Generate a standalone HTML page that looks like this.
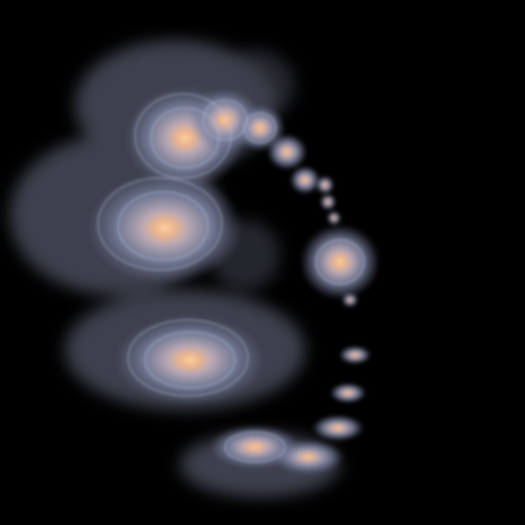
<!DOCTYPE html>
<html><head><meta charset="utf-8">
<style>
html,body{margin:0;padding:0;background:#000;width:525px;height:525px;overflow:hidden}
svg{display:block}
</style></head>
<body>
<svg width="525" height="525" viewBox="0 0 525 525">
<defs>
<radialGradient id="gal">
<stop offset="0" stop-color="#fbd7a8"/>
<stop offset="0.12" stop-color="#f0b58a"/>
<stop offset="0.3" stop-color="#b9a8b4"/>
<stop offset="0.6" stop-color="#7d85a3" stop-opacity="0.85"/>
<stop offset="1" stop-color="#6a7090" stop-opacity="0"/>
</radialGradient>
<filter id="b8"><feGaussianBlur stdDeviation="8"/></filter>
<filter id="b3"><feGaussianBlur stdDeviation="2"/></filter>
<filter id="b1"><feGaussianBlur stdDeviation="1.2"/></filter>
</defs>
<rect width="525" height="525" fill="#000"/>
<g filter="url(#b8)" fill="#7a809a" opacity="0.5">
<ellipse cx="175" cy="105" rx="100" ry="65"/>
<ellipse cx="115" cy="215" rx="105" ry="80"/>
<ellipse cx="185" cy="350" rx="120" ry="60"/>
<ellipse cx="260" cy="465" rx="80" ry="32"/>
<ellipse cx="245" cy="255" rx="35" ry="35" opacity="0.6"/>
<ellipse cx="255" cy="85" rx="40" ry="35" opacity="0.6"/>
</g>
<g filter="url(#b3)">
<ellipse cx="165" cy="228" rx="78" ry="56" fill="url(#gal)"/>
<ellipse cx="185" cy="138" rx="60" ry="52" fill="url(#gal)"/>
<ellipse cx="225" cy="120" rx="35" ry="32" fill="url(#gal)"/>
<ellipse cx="260" cy="128" rx="25" ry="23" fill="url(#gal)"/>
<ellipse cx="287" cy="152" rx="20" ry="18" fill="url(#gal)"/>
<ellipse cx="305" cy="180" rx="15" ry="14" fill="url(#gal)"/>
<ellipse cx="325" cy="185" rx="9" ry="9" fill="url(#gal)"/>
<ellipse cx="328" cy="202" rx="8" ry="8" fill="url(#gal)"/>
<ellipse cx="334" cy="218" rx="7" ry="7" fill="url(#gal)"/>
<ellipse cx="340" cy="262" rx="40" ry="38" fill="url(#gal)"/>
<ellipse cx="350" cy="300" rx="8" ry="7" fill="url(#gal)"/>
<ellipse cx="190" cy="360" rx="75" ry="45" fill="url(#gal)"/>
<ellipse cx="355" cy="355" rx="16" ry="9" fill="url(#gal)"/>
<ellipse cx="348" cy="393" rx="18" ry="10" fill="url(#gal)"/>
<ellipse cx="338" cy="428" rx="26" ry="13" fill="url(#gal)"/>
<ellipse cx="255" cy="447" rx="45" ry="22" fill="url(#gal)"/>
<ellipse cx="308" cy="457" rx="35" ry="17" fill="url(#gal)"/>
</g>
<g fill="none" stroke="#b8bed6" stroke-opacity="0.35" stroke-width="2" filter="url(#b1)">
<ellipse cx="163" cy="226" rx="45" ry="34"/>
<ellipse cx="160" cy="224" rx="62" ry="46"/>
<ellipse cx="185" cy="138" rx="34" ry="30"/>
<ellipse cx="183" cy="136" rx="48" ry="42"/>
<ellipse cx="190" cy="360" rx="45" ry="28"/>
<ellipse cx="188" cy="358" rx="60" ry="38"/>
<ellipse cx="225" cy="120" rx="22" ry="20"/>
<ellipse cx="340" cy="262" rx="24" ry="22"/>
<ellipse cx="260" cy="128" rx="16" ry="15"/>
<ellipse cx="255" cy="447" rx="30" ry="15"/>
</g>
</svg>
</body></html>
